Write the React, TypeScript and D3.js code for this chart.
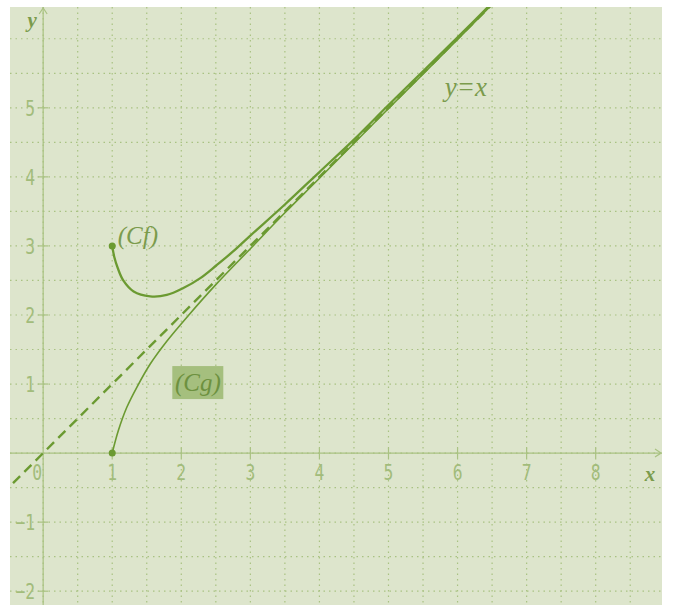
import React from 'react';
import * as d3 from 'd3';

// curve (Cf)
const cfX = [1.0, 1.03, 1.08, 1.16, 1.31, 1.55, 1.79, 2.03, 2.27, 2.51, 2.75, 3.0, 3.5, 4.0, 4.5, 5.0, 5.5, 6.0, 6.6];
const cfY = [3.0, 2.84, 2.68, 2.5, 2.34, 2.27, 2.29, 2.39, 2.53, 2.72, 2.92, 3.15, 3.6, 4.07, 4.54, 5.04, 5.53, 6.02, 6.62];

// curve (Cg)
const cgX = [1.0, 1.09, 1.21, 1.36, 1.55, 1.79, 2.1, 2.5, 3.0, 3.5, 4.0, 5.0, 6.0, 6.6];
const cgY = [0.0, 0.33, 0.66, 0.96, 1.29, 1.62, 1.99, 2.44, 2.96, 3.48, 3.98, 4.99, 5.99, 6.6];

// asymptote y = x
const lineX = [-0.6, 7];
const lineY = [-0.6, 7];

const xTicks = [0, 1, 2, 3, 4, 5, 6, 7, 8];
const yTicks = [-2, -1, 1, 2, 3, 4, 5];

const W = 675;
const H = 605;
const left = 10, right = 662, top = 7, bottom = 605;

const bg = '#dde5cc';
const gridCol = '#a9c282';
const curveCol = '#6b9a31';
const labelCol = '#a2bc7b';
const textCol = '#7b9b4c';

const App = () => {
  const x = d3.scaleLinear().domain([-0.48, 8.96]).range([left, right]);
  const y = d3.scaleLinear().domain([-2.2, 6.46]).range([bottom, top]);

  const line = d3.line<number[]>()
    .x(d => x(d[0]))
    .y(d => y(d[1]))
    .curve(d3.curveCatmullRom.alpha(0.5));

  const cf = cfX.map((v, i) => [v, cfY[i]]);
  const cg = cgX.map((v, i) => [v, cgY[i]]);
  const diag = lineX.map((v, i) => [v, lineY[i]]);

  const gridXs = d3.range(-0.5, 9.01, 0.5).filter(v => x(v) > left && x(v) < right);
  const gridYs = d3.range(-2, 6.51, 0.5).filter(v => y(v) > top && y(v) < bottom);

  const x0 = x(0);
  const y0 = y(0);

  return (
    <svg width={W} height={H} style={{ position: 'absolute', left: 0, top: 0 }}>
      <defs>
        <clipPath id="plot">
          <rect x={left} y={top} width={right - left} height={bottom - top} />
        </clipPath>
      </defs>
      <rect x={0} y={0} width={W} height={H} fill="#fff" />
      <rect x={left} y={top} width={right - left} height={bottom - top} fill={bg} />

      <g clipPath="url(#plot)">
        {gridXs.map(v => (
          <line key={'gx' + v} x1={x(v)} x2={x(v)} y1={top} y2={bottom}
            stroke={gridCol} strokeWidth={1.2} strokeDasharray="1.5,4" />
        ))}
        {gridYs.map(v => (
          <line key={'gy' + v} x1={left} x2={right} y1={y(v)} y2={y(v)}
            stroke={gridCol} strokeWidth={1.2} strokeDasharray="1.5,4" />
        ))}

        {/* axes */}
        <line x1={left} x2={right} y1={y0} y2={y0} stroke={gridCol} strokeWidth={1.2} />
        <line x1={x0} x2={x0} y1={top} y2={bottom} stroke={gridCol} strokeWidth={1.2} />
        {xTicks.filter(v => v !== 0).map(v => (
          <line key={'tx' + v} x1={x(v)} x2={x(v)} y1={y0 - 5} y2={y0 + 5} stroke={gridCol} strokeWidth={1.2} />
        ))}
        {yTicks.map(v => (
          <line key={'ty' + v} x1={x0 - 5} x2={x0 + 5} y1={y(v)} y2={y(v)} stroke={gridCol} strokeWidth={1.2} />
        ))}
        <path d={`M${right - 7},${y0 - 4}L${right - 1},${y0}L${right - 7},${y0 + 4}`} fill="none" stroke={gridCol} strokeWidth={1.2} />
        <path d={`M${x0 - 4},${top + 7}L${x0},${top + 1}L${x0 + 4},${top + 7}`} fill="none" stroke={gridCol} strokeWidth={1.2} />

        {/* curves */}
        <path d={line(diag) || ''} fill="none" stroke={curveCol} strokeWidth={2.4} strokeDasharray="10,6" />
        <path d={line(cg) || ''} fill="none" stroke={curveCol} strokeWidth={1.6} />
        <path d={line(cf) || ''} fill="none" stroke={curveCol} strokeWidth={2.3} />
        <circle cx={x(cfX[0])} cy={y(cfY[0])} r={3.5} fill={curveCol} />
        <circle cx={x(cgX[0])} cy={y(cgY[0])} r={3.5} fill={curveCol} />
      </g>

      {/* tick labels */}
      <g fontFamily="DejaVu Sans Mono" fontSize={21} fill={labelCol}>
        {xTicks.map(v => (
          <text key={'lx' + v} textAnchor="middle"
            transform={`translate(${v === 0 ? x(v) - 6 : x(v)},${y0 + 27}) scale(0.78,1)`}>{v}</text>
        ))}
        {yTicks.map(v => (
          <text key={'ly' + v} textAnchor="end"
            transform={`translate(${x0 - 8},${y(v) + 8}) scale(0.78,1)`}>{v < 0 ? '\u2212' + Math.abs(v) : v}</text>
        ))}
      </g>

      {/* axis names */}
      <g fontFamily="Liberation Serif" fontStyle="italic" fontWeight="bold" fontSize={21} fill={textCol}>
        <text x={x0 - 11} y={top + 20} textAnchor="middle">y</text>
        <text x={right - 12} y={y0 + 28} textAnchor="middle">x</text>
      </g>

      <g fontFamily="Liberation Serif" fontStyle="italic" fontSize={27} fill={textCol}>
        <text x={x(6.12)} y={y(5.17)} textAnchor="middle">y=x</text>
      </g>
      <text x={x(1.08)} y={y(3.03)} fontFamily="Liberation Serif" fontStyle="italic" fontSize={25} fill={textCol}>(Cf)</text>

      <rect x={x(1.87)} y={y(1.26)} width={51} height={33} fill="#a5bf7e" />
      <text x={x(1.87) + 25.5} y={y(1.26) + 25} textAnchor="middle"
        fontFamily="Liberation Serif" fontStyle="italic" fontSize={25} fill="#6d9140">(Cg)</text>
    </svg>
  );
};

export default App;
